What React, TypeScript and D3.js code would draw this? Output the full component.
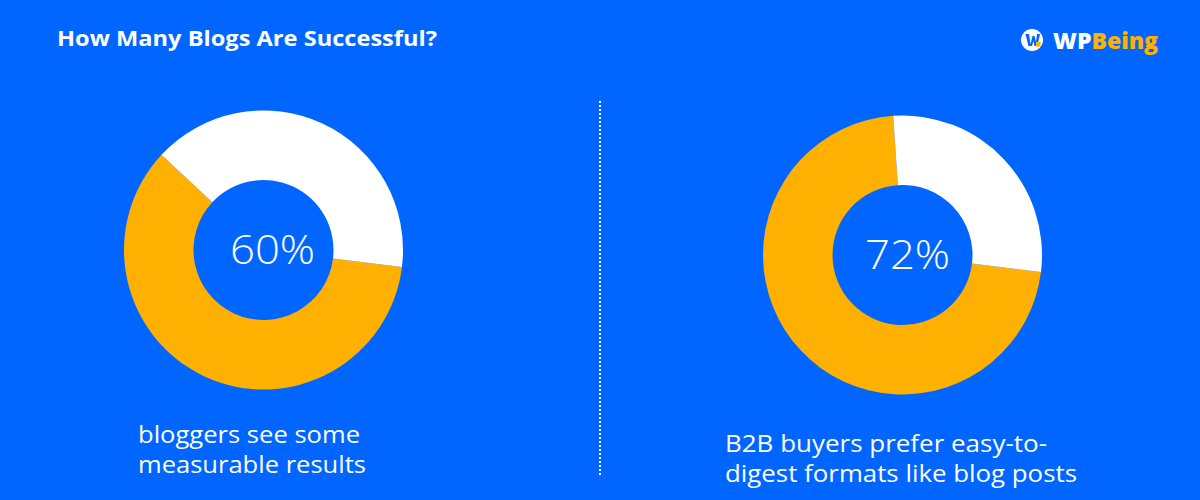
import React from "react";
import * as d3 from "d3";

const W = 1200;
const H = 500;
const BG = "#0066FF";
const ORANGE = "#FFB000";
const WHITE = "#FFFFFF";

const title = "How Many Blogs Are Successful?";
const chartValues = [60, 72];
const centerLabels = ["60%", "72%"];
const captions = [
  ["bloggers see some", "measurable results"],
  ["B2B buyers prefer easy-to-", "digest formats like blog posts"],
];
const captionWidths = [
  [222, 228],
  [322, 352],
];

const FONT = "'Open Sans', Lato, sans-serif";

const donuts = [
  { cx: 263.5, cy: 250, labelX: 230, capX: 138, capY: 443 },
  { cx: 902.5, cy: 255, labelX: 865, capX: 725, capY: 452 },
];

export default function App() {
  const outerR = 139.5;
  const innerR = 70;
  const startDeg = 97;
  const pie = d3
    .pie<number>()
    .sort(null)
    .startAngle((startDeg * Math.PI) / 180)
    .endAngle(((startDeg + 360) * Math.PI) / 180);
  const arc = d3.arc<d3.PieArcDatum<number>>().innerRadius(innerR).outerRadius(outerR);

  return (
    <svg width={W} height={H} style={{ position: "absolute", left: 0, top: 0, display: "block" }}>
      <rect x={0} y={0} width={W} height={H} fill={BG} />
      <text x={57} y={46} fill={WHITE} fontFamily={FONT} fontWeight={700} fontSize={21} textLength={380} lengthAdjust="spacingAndGlyphs">
        {title}
      </text>
      {/* logo */}
      <g>
        <circle cx={1032} cy={40} r={11} fill={WHITE} />
        <path d="M1025.5 34 L1029 34 L1030.5 44 L1032.5 36 L1034.5 36 L1036 42 L1037 34 L1040 34 L1037.5 46 L1034.5 46 L1033.5 41 L1032 46 L1028.5 46 Z" fill={BG} />
        <rect x={1036} y={42} width={4.5} height={4.5} fill={ORANGE} />
        <text x={1053} y={48.5} fontFamily={FONT} fontWeight={800} fontSize={22} textLength={105} lengthAdjust="spacingAndGlyphs">
          <tspan fill={WHITE}>WP</tspan>
          <tspan fill={ORANGE}>Being</tspan>
        </text>
      </g>
      {/* divider */}
      <line x1={600} y1={101} x2={600} y2={475} stroke={WHITE} strokeWidth={2} strokeDasharray="2 2" />
      {chartValues.map((v, i) => {
        const arcs = pie([v, 100 - v]);
        const d = donuts[i];
        return (
          <g key={i}>
            <g transform={`translate(${d.cx},${d.cy})`}>
              {arcs.map((a, j) => (
                <path key={j} d={arc(a) || ""} fill={j === 0 ? ORANGE : WHITE} />
              ))}
            </g>
            <text
              x={d.labelX}
              y={d.cy + 14}
              fill={WHITE}
              fontFamily={FONT}
              fontWeight={300}
              fontSize={40}
              textLength={85}
              lengthAdjust="spacingAndGlyphs"
            >
              {centerLabels[i]}
            </text>
            {captions[i].map((line, k) => (
              <text
                key={k}
                x={d.capX}
                y={d.capY + k * 30}
                fill={WHITE}
                fontFamily={FONT}
                fontWeight={400}
                fontSize={23}
                textLength={captionWidths[i][k]}
                lengthAdjust="spacingAndGlyphs"
              >
                {line}
              </text>
            ))}
          </g>
        );
      })}
    </svg>
  );
}
